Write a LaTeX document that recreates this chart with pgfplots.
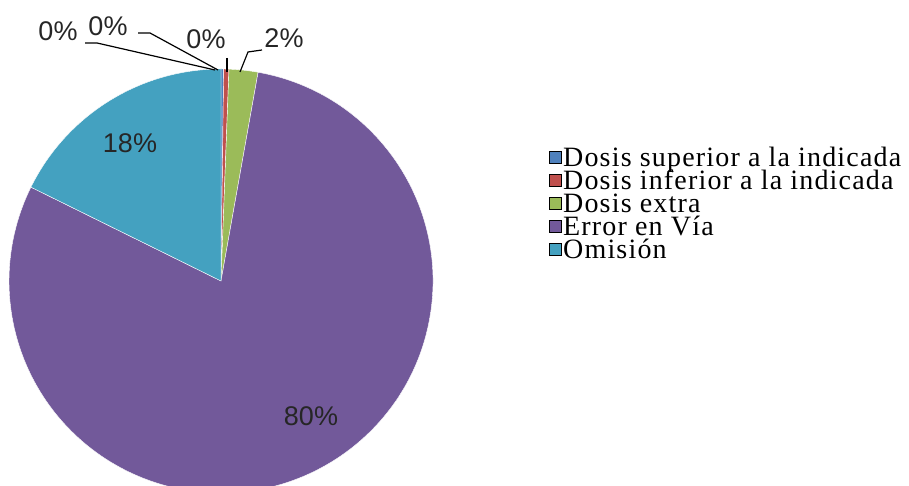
\documentclass[border=0pt]{standalone}
\usepackage{pgfplots}
\usepackage{pgfplotstable}
\pgfplotsset{compat=1.18}
\usepackage{fontspec}
\setmainfont{Liberation Serif}
\newfontfamily\legfont[LetterSpace=4.2]{Liberation Serif}
\newfontfamily\labfont{Liberation Sans}
\definecolor{cBlue}{RGB}{79,129,189}
\definecolor{cRed}{RGB}{192,80,77}
\definecolor{cGreen}{RGB}{155,187,89}
\definecolor{cPurple}{RGB}{114,89,154}
\definecolor{cCyan}{RGB}{68,161,192}
\pgfplotstableread{
name value
blue 0.2
red 0.4
green 2.2
purple 79.5
cyan 17.7
}\piedata
\begin{document}%
\begin{tikzpicture}
\pgfmathsetmacro\aA{90}
\pgfplotstablegetelem{0}{value}\of\piedata \pgfmathsetmacro\aB{\aA-3.6*\pgfplotsretval}
\pgfplotstablegetelem{1}{value}\of\piedata \pgfmathsetmacro\aC{\aB-3.6*\pgfplotsretval}
\pgfplotstablegetelem{2}{value}\of\piedata \pgfmathsetmacro\aD{\aC-3.6*\pgfplotsretval}
\pgfplotstablegetelem{3}{value}\of\piedata \pgfmathsetmacro\aE{\aD-3.6*\pgfplotsretval}
\pgfplotstablegetelem{4}{value}\of\piedata \pgfmathsetmacro\aF{\aE-3.6*\pgfplotsretval}
\begin{axis}[
  hide axis, scale only axis,
  at={(0,0)}, anchor=south west,
  width=454.5pt, height=243pt,
  xmin=0, xmax=909, ymin=0, ymax=486,
  clip=true,
  legend cell align=left,
  legend style={at={(axis cs:549,337)}, anchor=north west, draw=none, fill=none,
     font=\legfont\fontsize{14}{11.5}\selectfont, inner sep=0pt, row sep=1pt,
     nodes={text height=8pt, text depth=1.5pt, inner sep=0.5pt},
     /tikz/every odd column/.append style={column sep=0pt}},
  legend image code/.code={\fill[#1] (0pt,-2pt) rectangle (6pt,4pt);},
]
\addlegendimage{fill=cBlue}\addlegendentry{Dosis superior a la indicada}
\addlegendimage{fill=cRed}\addlegendentry{Dosis inferior a la indicada}
\addlegendimage{fill=cGreen}\addlegendentry{Dosis extra}
\addlegendimage{fill=cPurple}\addlegendentry{Error en Vía}
\addlegendimage{fill=cCyan}\addlegendentry{Omisión}
\fill[cBlue, draw=white, line width=0.2pt] (axis cs:221,205) -- ++(\aA:106pt) arc[start angle=\aA, end angle=\aB, radius=106pt] -- cycle;
\fill[cRed, draw=white, line width=0.2pt] (axis cs:221,205) -- ++(\aB:106pt) arc[start angle=\aB, end angle=\aC, radius=106pt] -- cycle;
\fill[cGreen, draw=white, line width=0.2pt] (axis cs:221,205) -- ++(\aC:106pt) arc[start angle=\aC, end angle=\aD, radius=106pt] -- cycle;
\fill[cPurple, draw=white, line width=0.2pt] (axis cs:221,205) -- ++(\aD:106pt) arc[start angle=\aD, end angle=\aE, radius=106pt] -- cycle;
\fill[cCyan, draw=white, line width=0.2pt] (axis cs:221,205) -- ++(\aE:106pt) arc[start angle=\aE, end angle=\aF, radius=106pt] -- cycle;
\begin{scope}[font=\labfont\fontsize{13.5}{14}\selectfont, text=black!85]
\node at (axis cs:58,455) {0\%};
\node at (axis cs:108,460) {0\%};
\node at (axis cs:206,447) {0\%};
\node at (axis cs:284,448) {2\%};
\node at (axis cs:130,343) {18\%};
\node at (axis cs:311,70) {80\%};
\end{scope}
\draw[black, line width=0.6pt] (axis cs:85,443) -- (axis cs:97,443) -- (axis cs:215,416);
\draw[black, line width=0.6pt] (axis cs:138,453) -- (axis cs:150,453) -- (axis cs:218,416);
\draw[black, line width=0.6pt] (axis cs:227,428) -- (axis cs:227,414);
\draw[black, line width=0.6pt] (axis cs:262,436) -- (axis cs:248,434) -- (axis cs:240,414);
\end{axis}
\pgfresetboundingbox
\path[use as bounding box] (0,0) rectangle (454.5pt,243pt);
\end{tikzpicture}%
\end{document}
